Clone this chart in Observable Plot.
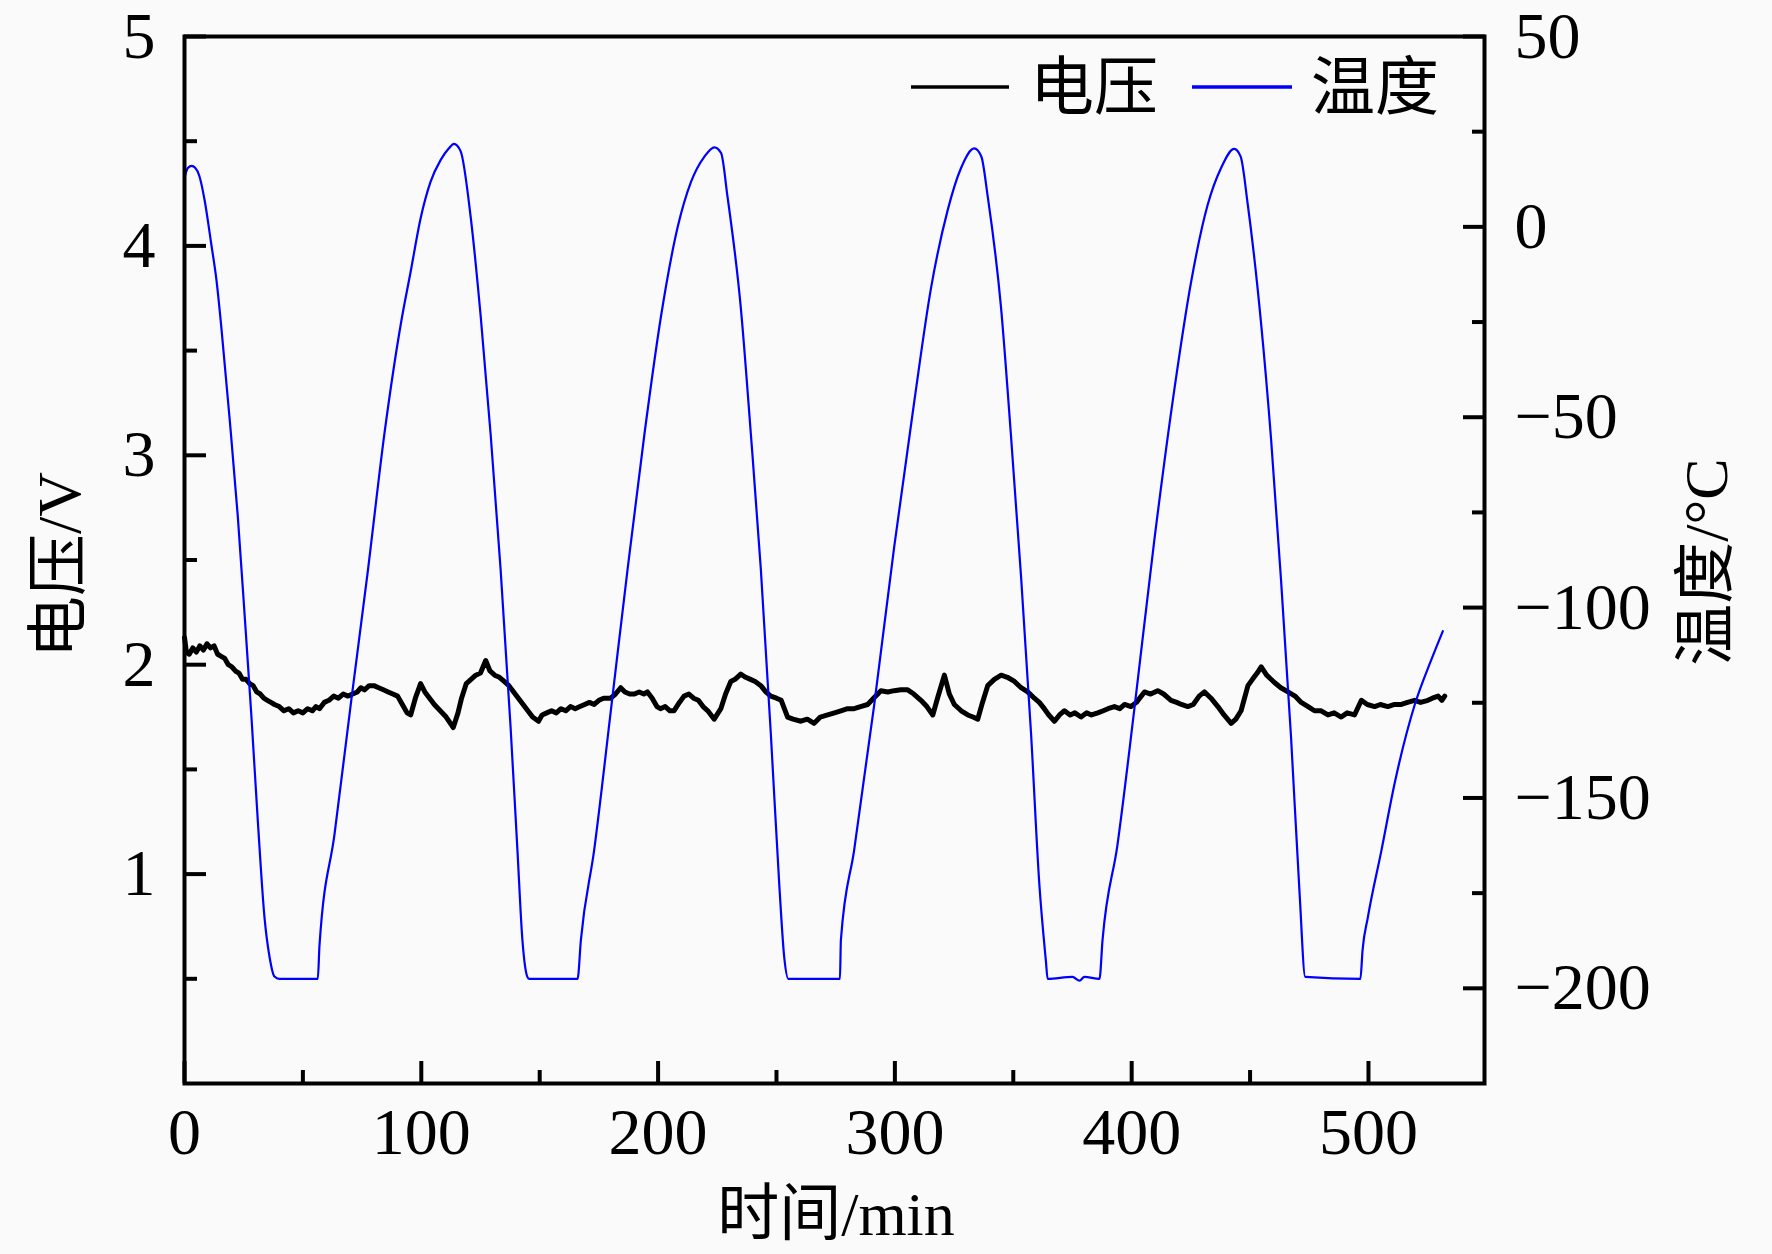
<!DOCTYPE html>
<html><head><meta charset="utf-8">
<script src="https://cdn.jsdelivr.net/npm/d3@7"></script>
<script src="https://cdn.jsdelivr.net/npm/@observablehq/plot@0.6"></script>
<style>
html,body{margin:0;padding:0;background:#fafafa;}
#chart{width:1772px;height:1254px;}
</style></head><body><div id="chart"></div>
<script>
// ---- scales / ticks ----
const xDomain = [0, 549];
const vDomain = [0, 5];
const tDomain = [-225, 50];
const timeTicks = [0, 100, 200, 300, 400, 500];
const timeMinor = [50, 150, 250, 350, 450];
const voltTicks = [1, 2, 3, 4, 5];
const voltMinor = [0.5, 1.5, 2.5, 3.5, 4.5];
const tempTicks = [50, 0, -50, -100, -150, -200];
const tempMinor = [25, -25, -75, -125, -175];
const legendNames = ["电压", "温度"];
const axisTitles = {x: "时间/min", yLeft: "电压/V", yRight: "温度/°C"};

// ---- voltage series ----
const voltTime = [0,0.8,2,3.5,5,6.5,8,9.5,11,12.5,14,15.5,17,18.5,20,21.5,23,24.5,26,27.5,29,30.5,32,33.5,35,36.5,38,40,42,44,46,48,50,52,54,55.5,57,59,61,63,65,67,69,71,73,74.5,76,78,80,82,84,86,88,90,92,94,95.5,97.5,99.7,101.5,103.5,105.5,108,110.5,113.5,115.5,117,119,121,123,125,127.2,129,131,133,135,137,139,141,143,145,147,149.5,151,153,155,157,159,161,163,165,167,169,171,173,175,177,180,182,184.2,186,188,190,192,194,195.5,197.5,199.5,201,203,205,206.7,209,211,213,215,217,219,221,223.7,226.5,228.5,230.7,232.5,234.9,237,239,241,243.4,245.5,247.6,250,252,254.7,257,260.3,263,265.9,268.5,271.6,274.5,277.2,280,282.8,285.5,288.5,291,294.1,297,299.7,302.5,305.4,308,311,313.5,316,318,320.9,323,325.1,328,330.8,333,335,337,339.2,342,344.9,347.5,350.5,353.3,356.1,358.9,361,363.1,365,367.4,369.5,371.6,374,376,378.6,381,383,385.7,388,390,392.7,395,397,399.7,402,405.4,408,411,413.5,416.6,419,421,423.7,426,428.5,430.7,433.5,436.4,439,442,444,446.2,449.1,451,453,454.7,457,460.3,463,466,469,471.6,474.5,477.2,480,482.9,485.5,488.5,491,494.1,497,499.5,502.6,505,508.2,511,513.9,516.5,519.5,522,525.1,527,529.4,531,532.2];
const voltValue = [2.13,2.06,2.05,2.08,2.06,2.09,2.07,2.10,2.08,2.09,2.05,2.04,2.03,2.00,1.99,1.97,1.96,1.93,1.93,1.91,1.90,1.87,1.86,1.84,1.83,1.82,1.81,1.80,1.78,1.79,1.77,1.78,1.77,1.79,1.78,1.80,1.79,1.82,1.83,1.85,1.84,1.86,1.85,1.86,1.87,1.89,1.88,1.90,1.90,1.89,1.88,1.87,1.86,1.85,1.81,1.77,1.76,1.84,1.91,1.87,1.84,1.81,1.78,1.75,1.70,1.77,1.84,1.91,1.93,1.95,1.96,2.02,1.97,1.95,1.94,1.92,1.90,1.87,1.84,1.81,1.78,1.75,1.73,1.76,1.77,1.78,1.77,1.79,1.78,1.80,1.79,1.80,1.81,1.82,1.81,1.83,1.84,1.84,1.86,1.89,1.87,1.86,1.86,1.87,1.86,1.87,1.84,1.80,1.79,1.80,1.78,1.78,1.82,1.85,1.86,1.84,1.83,1.80,1.78,1.74,1.79,1.86,1.92,1.93,1.955,1.94,1.93,1.92,1.90,1.87,1.85,1.84,1.83,1.75,1.74,1.73,1.74,1.72,1.75,1.76,1.77,1.78,1.79,1.79,1.80,1.81,1.84,1.876,1.87,1.876,1.88,1.88,1.86,1.83,1.80,1.76,1.84,1.95,1.86,1.81,1.78,1.76,1.75,1.74,1.82,1.90,1.93,1.95,1.94,1.92,1.89,1.87,1.84,1.82,1.79,1.76,1.73,1.76,1.78,1.76,1.77,1.75,1.77,1.76,1.77,1.78,1.79,1.80,1.79,1.81,1.80,1.82,1.87,1.86,1.876,1.86,1.83,1.82,1.81,1.80,1.81,1.85,1.87,1.84,1.80,1.76,1.72,1.74,1.78,1.90,1.93,1.96,1.99,1.95,1.915,1.89,1.87,1.85,1.82,1.80,1.78,1.78,1.76,1.77,1.75,1.77,1.76,1.83,1.81,1.80,1.81,1.80,1.81,1.81,1.82,1.83,1.82,1.83,1.84,1.85,1.83,1.85];

// ---- temperature series ----
const tempTime = [0,1.5,3,4.5,6.3,8.5,11.3,13.5,15.5,19,22.5,25.4,28.2,31,33.8,35.9,38,40,56.3,57,63.4,70.4,77.5,84.5,91.5,95.5,99.7,103.9,108.2,111.5,113.8,116.6,120.8,125.1,129.3,133.5,137.7,140.6,142.7,144.8,145.5,166,167.4,173,180.1,187.1,194.2,201.2,208.3,213.9,219.5,223.8,226.6,229.3,234.9,239.2,243.4,247.6,251.2,253.3,255,276.8,277.2,282.8,291.3,299.7,308.2,315.2,322.3,327.9,333.5,336.5,339.2,344.8,349,353.3,357.5,361,363.8,364.5,375,378,380,386.4,387.7,394,401.1,409.5,418,425,432.1,437.7,443.3,446,449,454.6,458.9,463.1,467.3,470.9,473.3,496.6,497.5,499.7,505.5,511.1,519.6,526.6,531.4];
const tempValue = [13,15.5,16,15.5,13.3,7,-4.5,-14,-26,-50,-76,-102,-128,-156.4,-181.5,-191.7,-196.9,-197.5,-197.5,-188.8,-159.3,-124.5,-90,-54,-25,-11.8,2.2,11.8,17.6,20.5,21.8,19.9,2.9,-23.6,-54.6,-90,-131.3,-163.7,-187.3,-197,-197.5,-197.5,-187.3,-163.7,-126.8,-90,-54.6,-23.6,0,11.8,18.4,20.9,19.4,8,-21,-54.6,-90,-133,-173,-192,-197.5,-197.5,-187.3,-163.7,-125.4,-84.1,-45.8,-16.3,4.4,15.4,20.6,18.5,8,-21,-54.6,-92,-133,-172.6,-193,-197.5,-197,-198,-197,-197.5,-187.3,-162.3,-126.8,-82.6,-42.8,-14.8,5.8,15.4,20.5,18.5,6,-25,-56,-93,-134,-175,-197,-197.5,-190,-181.5,-163.7,-146,-125.4,-113.6,-106.2];

// map temperature onto the voltage-axis range (twin axis)
const toV = T => (T - tDomain[0]) / (tDomain[1] - tDomain[0]) * (vDomain[1] - vDomain[0]) + vDomain[0];
const fromV = v => (v - vDomain[0]) / (vDomain[1] - vDomain[0]) * (tDomain[1] - tDomain[0]) + tDomain[0];
const fmtSigned = n => n < 0 ? "\u2212" + Math.abs(n) : String(n);

const voltRows = voltTime.map((t, i) => ({t, v: voltValue[i]}));
const tempRows = tempTime.map((t, i) => ({t, v: toV(tempValue[i])}));

const W = 1772, H = 1254;
const M = {left: 184, right: 288, top: 36, bottom: 171};
const FONT = "'Liberation Serif','Times New Roman','Noto Sans CJK SC',serif";
const tickFont = 66;
const blank = () => "";
const intFmt = d => String(d);

const plot = Plot.plot({
  width: W, height: H,
  marginLeft: M.left, marginRight: M.right, marginTop: M.top, marginBottom: M.bottom,
  style: {background: "#fafafa", fontFamily: FONT, color: "#000"},
  x: {domain: xDomain},
  y: {domain: vDomain},
  marks: [
    Plot.line(voltRows, {x: "t", y: "v", stroke: "#000", strokeWidth: 5, strokeLinejoin: "round"}),
    Plot.line(tempRows, {x: "t", y: "v", stroke: "#0000ff", strokeWidth: 2.2, curve: "monotone-x"}),
    // x axis
    Plot.axisX(timeTicks, {anchor: "bottom", tickSize: 0, tickPadding: 24, fontSize: tickFont, label: null, tickFormat: intFmt}),
    Plot.axisX(timeTicks, {anchor: "bottom", tickSize: -22, strokeWidth: 4, tickFormat: blank, label: null}),
    Plot.axisX(timeMinor, {anchor: "bottom", tickSize: -13, strokeWidth: 4, tickFormat: blank, label: null}),
    // left y axis (voltage)
    Plot.axisY(voltTicks, {anchor: "left", tickSize: 0, tickPadding: 29, fontSize: tickFont, label: null, tickFormat: intFmt}),
    Plot.axisY(voltTicks, {anchor: "left", tickSize: -22, strokeWidth: 4, tickFormat: blank, label: null}),
    Plot.axisY(voltMinor, {anchor: "left", tickSize: -13, strokeWidth: 4, tickFormat: blank, label: null}),
    // right y axis (temperature)
    Plot.axisY(tempTicks.map(toV), {anchor: "right", tickSize: 0, tickPadding: 30, fontSize: tickFont, label: null,
      tickFormat: v => fmtSigned(Math.round(fromV(v)))}),
    Plot.axisY(tempTicks.map(toV), {anchor: "right", tickSize: -22, strokeWidth: 4, tickFormat: blank, label: null}),
    Plot.axisY(tempMinor.map(toV), {anchor: "right", tickSize: -13, strokeWidth: 4, tickFormat: blank, label: null}),
    Plot.frame({stroke: "#000", strokeWidth: 4})
  ]
});
document.getElementById("chart").appendChild(plot);

// titles and legend
const svg = d3.select(plot);
const titleSize = 62;
svg.append("text").attr("x", 836).attr("y", 1214)
  .attr("text-anchor", "middle").attr("dominant-baseline", "central")
  .attr("font-family", FONT).attr("font-size", titleSize).attr("fill", "#000").text(axisTitles.x);
svg.append("text").attr("transform", "translate(59,565) rotate(-90)")
  .attr("text-anchor", "middle").attr("dominant-baseline", "central")
  .attr("font-family", FONT).attr("font-size", titleSize).attr("fill", "#000").text(axisTitles.yLeft);
svg.append("text").attr("transform", "translate(1706,562) rotate(-90)")
  .attr("text-anchor", "middle").attr("dominant-baseline", "central")
  .attr("font-family", FONT).attr("font-size", titleSize).attr("fill", "#000").text(axisTitles.yRight);

const legendItems = [
  {name: legendNames[0], color: "#000", x1: 911, x2: 1009, tx: 1030},
  {name: legendNames[1], color: "#0000ff", x1: 1192, x2: 1292, tx: 1311}
];
const lg = svg.append("g");
legendItems.forEach(d => {
  lg.append("line").attr("x1", d.x1).attr("x2", d.x2).attr("y1", 87).attr("y2", 87)
    .attr("stroke", d.color).attr("stroke-width", 3.5);
  lg.append("text").attr("x", d.tx).attr("y", 87).attr("text-anchor", "start").attr("dominant-baseline", "central")
    .attr("font-family", FONT).attr("font-size", 64).attr("fill", "#000").text(d.name);
});
</script>
</body></html>
